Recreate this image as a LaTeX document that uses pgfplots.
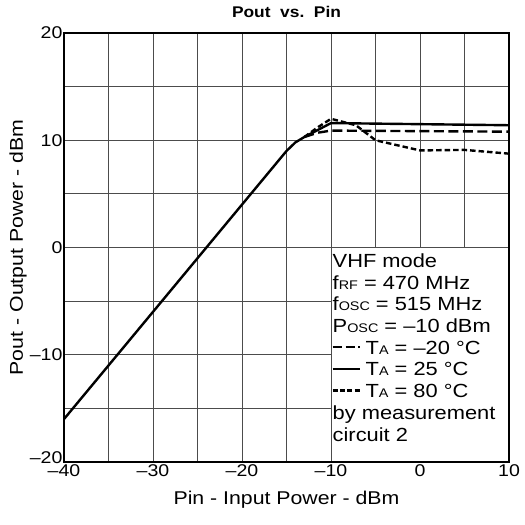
\documentclass[border=0pt]{standalone}
\usepackage{pgfplots}
\pgfplotsset{compat=1.18}
\usepackage{fontspec}
\setmainfont{Liberation Sans}[FakeStretch=1.15]
\newfontfamily\titlefont{Liberation Sans Bold}[FakeStretch=1.12]
\newcommand{\sm}[1]{{\fontsize{12.5}{12.5}\selectfont #1}}
\newcommand{\fs}{\fontsize{18.5}{21.7}\selectfont}
\newcommand{\lfs}{\fontsize{19}{21.7}\selectfont}
\newcommand{\lseg}[1]{\rule[0.32em]{#1}{2.2pt}}
\begin{document}
\begin{tikzpicture}[font=\fs]
\begin{axis}[
  width=445pt, height=429pt, scale only axis,
  xmin=-40, xmax=10, ymin=-20, ymax=20,
  xtick={-40,-30,-20,-10,0,10},
  xticklabels={--40,--30,--20,--10,0,10},
  ytick={-20,-10,0,10,20},
  yticklabels={\raisebox{8pt}{--20},--10,0,10,20},
  minor xtick={-35,-25,-15,-5,5},
  minor ytick={-15,-5,5,15},
  grid=both,
  major grid style={black!70, line width=0.9pt},
  minor grid style={black!70, line width=0.9pt},
  tick style={draw=none},
  axis line style={line width=2pt},
  xlabel={Pin - Input Power - dBm},
  ylabel={Pout - Output Power - dBm},
  label style={font=\fs},
  tick label style={font=\fontsize{17}{20}\selectfont},
  xlabel style={at={(axis description cs:0.5,-0.0886)}, anchor=center},
  ylabel style={at={(axis description cs:-0.1034,0.5)}, anchor=center},
  xticklabel style={yshift=1pt},
  yticklabel style={xshift=2pt},
  every axis plot/.append style={line width=2.4pt, black},
]
\fill[white] (axis cs:-10,-20) rectangle (axis cs:10,0);
\draw[black!70, line width=0.9pt] (axis cs:-10,-20) -- (axis cs:-10,0) -- (axis cs:10,0);
\draw[line width=2pt] (axis cs:-10,-20) -- (axis cs:10,-20) -- (axis cs:10,0);
% TA = 25 C
\addplot[solid] coordinates {(-40,-16) (-15,9) (-14,9.8) (-13,10.3) (-10,11.6) (10,11.4)};
% TA = -20 C
\addplot[dash pattern=on 10pt off 4.5pt] coordinates {(-13,10.3) (-11.5,10.7) (-10,10.9) (10,10.8)};
% TA = 80 C
\addplot[dash pattern=on 5.5pt off 3pt] coordinates {(-13,10.3) (-11.5,11.2) (-10,12.0) (-7.2,11.4) (-5,10.0) (0,9.05) (5,9.1) (10,8.75)};
\node[anchor=north west, align=left, inner sep=0pt, xshift=1.5pt, yshift=-6pt, font=\lfs] at (axis cs:-10,0) {%
VHF mode\\
f\sm{RF} = 470 MHz\\
f\sm{OSC} = 515 MHz\\
P\sm{OSC} = --10 dBm\\
\lseg{9pt}\hspace{4pt}\lseg{9pt}\hspace{3pt}\lseg{2pt}\hspace{6pt}T\sm{A} = --20 °C\\
\lseg{27pt}\hspace{6pt}T\sm{A} = 25 °C\\
\lseg{5pt}\hspace{2.3pt}\lseg{5pt}\hspace{2.3pt}\lseg{5pt}\hspace{2.3pt}\lseg{5pt}\hspace{6pt}T\sm{A} = 80 °C\\
by measurement\\
circuit 2};
\end{axis}
\path (current axis.south west) ++(222.5pt,450pt) node[anchor=center, inner sep=0pt, font=\titlefont\fontsize{15.5}{19}\selectfont] {Pout\ \ vs.\ \ Pin};
\path (current axis.south west) ++(-64pt,-63pt) rectangle ++(525pt,525pt);
\end{tikzpicture}
\end{document}
